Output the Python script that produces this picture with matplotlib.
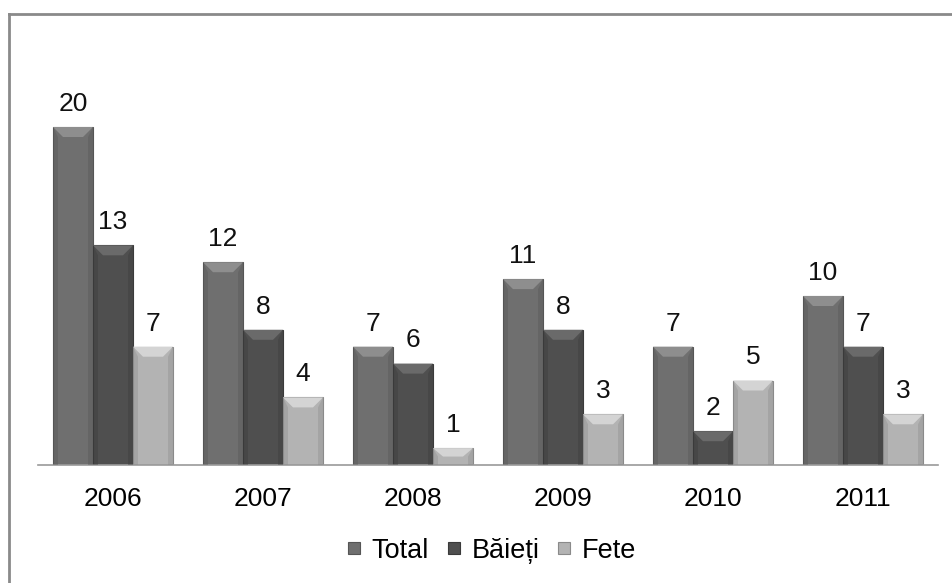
import matplotlib
matplotlib.use("Agg")
import matplotlib.pyplot as plt
from matplotlib.patches import Polygon
import numpy as np

years = ["2006", "2007", "2008", "2009", "2010", "2011"]
total = [20, 12, 7, 11, 7, 10]
baieti = [13, 8, 6, 8, 2, 7]
fete = [7, 4, 1, 3, 5, 3]
series_names = ["Total", "Băieți", "Fete"]
colors = ["#6f6f6f", "#4f4f4f", "#b3b3b3"]
top_colors = ["#8e8e8e", "#6a6a6a", "#d4d4d4"]
edge_colors = ["#555555", "#3a3a3a", "#8a8a8a"]

plt.rcParams['font.family'] = ['Liberation Sans', 'DejaVu Sans']

W, H = 953, 583
fig = plt.figure(figsize=(W / 100, H / 100), dpi=100)
fig.patch.set_facecolor("white")

# outer border (left and top visible)
fig.add_artist(plt.Line2D([9 / W, 9 / W], [0, 1 - 14 / H], transform=fig.transFigure,
                          color="#8a8a8a", lw=2))
fig.add_artist(plt.Line2D([9 / W, 1], [1 - 14 / H, 1 - 14 / H], transform=fig.transFigure,
                          color="#8a8a8a", lw=2))

ax_left, ax_right = 38, 938
ax_bottom = 465
ax = fig.add_axes([ax_left / W, (H - ax_bottom) / H, (ax_right - ax_left) / W, 422.5 / H])
ax.set_xlim(-0.5, len(years) - 0.5)
ax.set_ylim(0, 25)
for s in ["top", "right", "left"]:
    ax.spines[s].set_visible(False)
ax.spines["bottom"].set_color("#9a9a9a")
ax.spines["bottom"].set_linewidth(1.2)
ax.set_yticks([])
x = np.arange(len(years))
ax.set_xticks(x)
ax.set_xticklabels(years, fontsize=19)
ax.tick_params(axis="x", length=0, pad=16)

bw = 40 / 150
data = [total, baieti, fete]
fig.canvas.draw()
px_x = ax.transData.transform((1, 0))[0] - ax.transData.transform((0, 0))[0]
px_y = ax.transData.transform((0, 1))[1] - ax.transData.transform((0, 0))[1]
bev = 10  # bevel in pixels
bx = bev / px_x
by = bev / px_y

handles = []
for i, (vals, c, tc, ec) in enumerate(zip(data, colors, top_colors, edge_colors)):
    offs = x + (i - 1) * bw
    bars = ax.bar(offs, vals, width=bw, color=c, edgecolor=ec, linewidth=0.8,
                  label=series_names[i], zorder=2)
    handles.append(bars)
    for b, v in zip(bars, vals):
        x0 = b.get_x()
        x1 = x0 + b.get_width()
        top = b.get_height()
        bh = min(by, top / 2)
        ax.add_patch(Polygon([[x0, top], [x1, top], [x1 - bx, top - bh], [x0 + bx, top - bh]],
                             closed=True, facecolor=tc, edgecolor="none", zorder=3))
        ax.add_patch(Polygon([[x0, top], [x0 + bx * 0.5, top - bh], [x0 + bx * 0.5, 0], [x0, 0]],
                             closed=True, facecolor=ec, alpha=0.35, edgecolor="none", zorder=3))
        ax.add_patch(Polygon([[x1, top], [x1 - bx * 0.5, top - bh], [x1 - bx * 0.5, 0], [x1, 0]],
                             closed=True, facecolor=ec, alpha=0.35, edgecolor="none", zorder=3))
        ax.annotate(str(v), (b.get_x() + b.get_width() / 2, top), xytext=(0, 8),
                    textcoords="offset points", ha="center", va="bottom", fontsize=19,
                    color="#111111", zorder=5)

leg = fig.legend(handles=handles, labels=series_names, loc="center",
                 bbox_to_anchor=(492 / W, 1 - 551 / H), ncol=3, frameon=False,
                 fontsize=19.5, handlelength=0.45, handleheight=0.3, handletextpad=0.42,
                 columnspacing=0.7, borderpad=0)

fig.savefig("out.png", dpi=100, facecolor="white")
